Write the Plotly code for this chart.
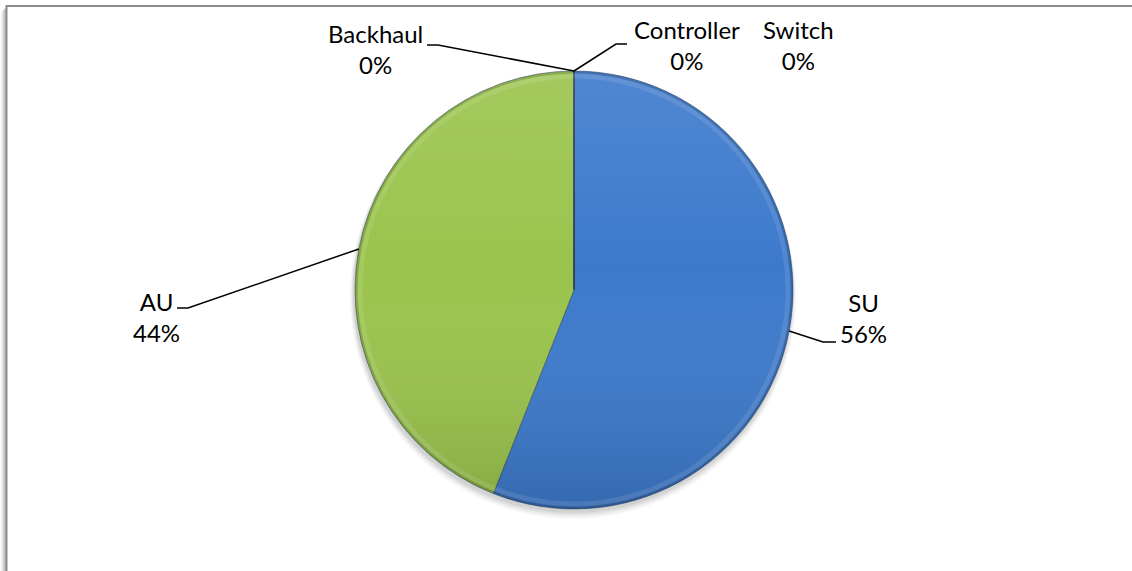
import base64
import math
import plotly.graph_objects as go

W, H = 1132, 571

# Slice data (clockwise from 12 o'clock)
categories = ["SU", "AU", "Backhaul", "Controller", "Switch"]
values = [56, 44, 0, 0, 0]
colors = ["#3d7acc", "#9ac44d", "#c0504d", "#8064a2", "#4bacc6"]

# Pie geometry in pixels
CX, CY, R = 574, 290, 219

# Label block centres and leader-line elbows (pixels)
label_pos = {
    "SU": (863, 318),
    "AU": (156, 317),
    "Backhaul": (376, 49),
    "Controller": (687, 45),
    "Switch": (798, 45),
}
leader_elbows = {
    "SU": [(823, 342), (836, 342)],
    "AU": [(188, 308), (177, 308)],
    "Backhaul": [(438, 45), (427, 45)],
    "Controller": [(616, 44), (627, 44)],
}

FONT = "Lato"


def px(x):
    return x / W


def py(y):
    return 1 - y / H


fig = go.Figure()

fig.add_trace(go.Pie(
    labels=categories,
    values=values,
    sort=False,
    direction="clockwise",
    rotation=0,
    marker=dict(colors=colors, line=dict(color="rgba(40,60,90,0.5)", width=1)),
    textinfo="none",
    hoverinfo="label+percent",
    showlegend=False,
    domain=dict(x=[px(CX - R), px(CX + R)], y=[py(CY + R), py(CY - R)]),
))

shapes = []

# Chart-area frame with a soft shadow on its left edge
for i, a in enumerate([0.05, 0.09, 0.14, 0.2, 0.28]):
    xs = 1.5 + i
    shapes.append(dict(type="line", xref="paper", yref="paper",
                       x0=px(xs), x1=px(xs), y0=py(8 + (4 - i)), y1=0,
                       line=dict(color=f"rgba(0,0,0,{a})", width=1.2)))
shapes.append(dict(type="line", xref="paper", yref="paper",
                   x0=px(6.5), x1=1.01, y0=py(6), y1=py(6),
                   line=dict(color="#8c8c8c", width=2)))
shapes.append(dict(type="line", xref="paper", yref="paper",
                   x0=px(6.5), x1=px(6.5), y0=py(5), y1=-0.01,
                   line=dict(color="#8c8c8c", width=2)))

# Soft drop shadow beneath the pie
for i, a in enumerate([0.03, 0.04, 0.05, 0.06]):
    off = 6 - i
    rr = R + 4 - i
    shapes.append(dict(type="circle", xref="paper", yref="paper", layer="below",
                       x0=px(CX - rr - 1), x1=px(CX + rr - 1),
                       y0=py(CY + rr + off), y1=py(CY - rr + off),
                       fillcolor=f"rgba(0,0,0,{a})", line=dict(width=0)))

# Leader lines start at each slice's mid-angle on the rim
total = sum(values)
start = 0.0
annotations = []
for cat, v in zip(categories, values):
    frac = v / total
    mid = (start + frac / 2) * 2 * math.pi
    start += frac
    if cat in leader_elbows:
        rim = (CX + R * math.sin(mid), CY - R * math.cos(mid))
        pts = [rim] + leader_elbows[cat]
        path = "M " + " L ".join(f"{px(x)},{py(y)}" for x, y in pts)
        shapes.append(dict(type="path", xref="paper", yref="paper", path=path,
                           line=dict(color="black", width=1.5)))
    lx, ly = label_pos[cat]
    annotations.append(dict(
        xref="paper", yref="paper", x=px(lx), y=py(ly),
        text=f"{cat}<br>{round(frac * 100)}%",
        showarrow=False, xanchor="center", yanchor="middle",
        font=dict(family=FONT, size=24, color="black"),
    ))

# Vertical light-to-dark shading and rim bevel over the pie
svg = (
    '<svg xmlns="http://www.w3.org/2000/svg" viewBox="0 0 100 100" preserveAspectRatio="none">'
    '<defs><linearGradient id="g" x1="0" y1="0" x2="0" y2="1">'
    '<stop offset="0" stop-color="#ffffff" stop-opacity="0.10"/>'
    '<stop offset="0.45" stop-color="#ffffff" stop-opacity="0"/>'
    '<stop offset="1" stop-color="#000000" stop-opacity="0.14"/>'
    '</linearGradient></defs>'
    '<circle cx="50" cy="50" r="50" fill="url(#g)"/>'
    '<circle cx="50" cy="50" r="48.9" fill="none" stroke="#ffffff" stroke-opacity="0.10" stroke-width="1.2"/>'
    '<circle cx="50" cy="50" r="49.7" fill="none" stroke="#000000" stroke-opacity="0.15" stroke-width="0.6"/>'
    '</svg>'
)
src = "data:image/svg+xml;base64," + base64.b64encode(svg.encode()).decode()

fig.update_layout(
    width=W, height=H,
    margin=dict(l=0, r=0, t=0, b=0),
    paper_bgcolor="white",
    plot_bgcolor="white",
    shapes=shapes,
    annotations=annotations,
    images=[dict(source=src, xref="paper", yref="paper",
                 x=px(CX - R), y=py(CY - R), sizex=2 * R / W, sizey=2 * R / H,
                 xanchor="left", yanchor="top", sizing="stretch", layer="above")],
)

fig.write_html("out.html", config={"displayModeBar": False})
